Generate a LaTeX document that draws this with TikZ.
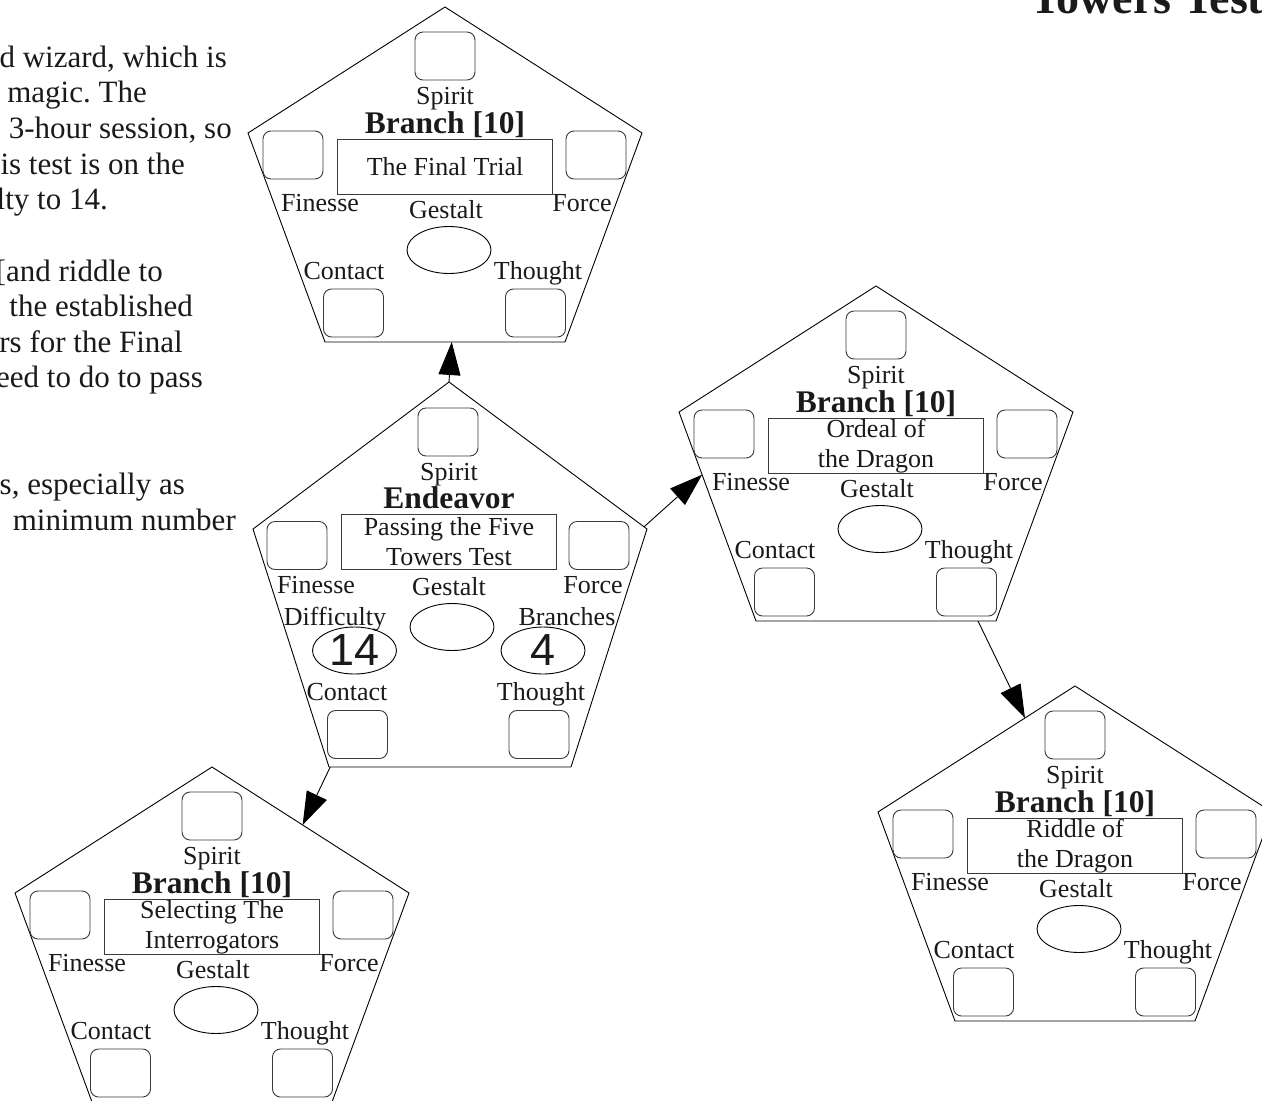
\documentclass[tikz,border=0pt]{standalone}
\usepackage{fontspec}
\setmainfont{Liberation Serif}
\newfontfamily\digitfont{Liberation Sans}
\usetikzlibrary{shapes.geometric,arrows.meta,calc}
\frenchspacing
\definecolor{ink}{HTML}{1A1A1A}
\definecolor{boxline}{HTML}{3A3A3A}
\tikzset{
  pentline/.style={draw=black,line width=0.9pt},
  slot/.style={draw=boxline,line width=0.9pt,rounded corners=8pt,minimum width=60pt,minimum height=48pt,inner sep=0pt},
  namebox/.style={draw=boxline,line width=0.9pt,minimum width=215pt,minimum height=55pt,inner sep=0pt,align=center,font=\fontsize{26}{30}\selectfont,text=ink},
  lbl/.style={anchor=base,inner sep=0pt,font=\fontsize{26}{30}\selectfont,text=ink},
  ttl/.style={anchor=base,inner sep=0pt,font=\bfseries\fontsize{31.5}{36}\selectfont,text=ink},
  oval/.style={draw=black,ellipse,line width=0.9pt,minimum width=84pt,minimum height=47pt,inner sep=0pt},
  bigoval/.style={oval,font=\digitfont\fontsize{45}{50}\selectfont,text=ink},
  prose/.style={anchor=base east,inner sep=0pt,font=\fontsize{31}{35.6}\selectfont,text=ink},
  arr/.style={draw=black,line width=0.9pt,-{Triangle[length=33pt,width=22pt]}},
}
% standard pentagon: #1 id, #2 apex x, #3 apex y, #4 title, #5 box text
\newcommand{\PentBox}[5]{%
  \begin{scope}[shift={(#2,#3)}]
    \coordinate (#1-t) at (0,0);
    \coordinate (#1-r) at (197,126);
    \coordinate (#1-br) at (120,335);
    \coordinate (#1-bl) at (-120,335);
    \coordinate (#1-l) at (-197,126);
    \draw[pentline] (#1-t) -- (#1-r) -- (#1-br) -- (#1-bl) -- (#1-l) -- cycle;
    \node[slot] (#1-spirit) at (0,49) {};
    \node[lbl] (#1-spiritl) at (0,97) {Spirit};
    \node[ttl] (#1-title) at (0,126) {#4};
    \node[namebox] (#1-name) at (0,160) {#5};
    \node[slot] (#1-finesse) at (-152,148) {};
    \node[slot] (#1-force) at (151,148) {};
    \node[lbl] (#1-finessel) at (-125,204) {Finesse};
    \node[lbl] (#1-forcel) at (137,204) {Force};
    \node[lbl] (#1-gestaltl) at (1,211) {Gestalt};
    \node[oval] (#1-gestalt) at (4,243) {};
    \node[lbl] (#1-contactl) at (-101,272) {Contact};
    \node[lbl] (#1-thoughtl) at (93,272) {Thought};
    \node[slot] (#1-contact) at (-91.5,306) {};
    \node[slot] (#1-thought) at (90.5,306) {};
  \end{scope}}
\begin{document}
\begin{tikzpicture}[x=1pt,y=-1pt]
  \useasboundingbox (0,0) rectangle (1262,1101);
  \clip (0,0) rectangle (1262,1101);
  \fill[white] (0,0) rectangle (1262,1101);

  % page text (cut off at the left edge)
  \node[prose] (p1) at (227,67) {d wizard, which is};
  \node[prose] (p2) at (147,102.6) {magic. The};
  \node[prose] (p3) at (232,138) {3-hour session, so};
  \node[prose] (p4) at (185,174) {is test is on the};
  \node[prose] (p5) at (108,209) {lty to 14.};
  \node[prose] (p6) at (163,281) {[and riddle to};
  \node[prose] (p7) at (193,316) {the established};
  \node[prose] (p8) at (183,352) {rs for the Final};
  \node[prose] (p9) at (203,387) {eed to do to pass};
  \node[prose] (p10) at (185,494) {s, especially as};
  \node[prose] (p11) at (236,530) {minimum number};

  \node[anchor=base west,inner sep=0pt,font=\bfseries\fontsize{46}{52}\selectfont,text=ink] (heading) at (1030,13.3) {Towers Test};

  \PentBox{fin}{445}{7}{Branch [10]}{The Final Trial}
  \PentBox{ord}{876}{286}{Branch [10]}{Ordeal of\\the Dragon}
  \PentBox{rid}{1075}{686}{Branch [10]}{Riddle of\\the Dragon}
  \PentBox{sel}{212}{767}{Branch [10]}{Selecting The\\Interrogators}

  % central Endeavor pentagon
  \begin{scope}[shift={(449,382)}]
    \coordinate (end-t) at (0,0);
    \coordinate (end-r) at (198,147);
    \coordinate (end-br) at (122,385);
    \coordinate (end-bl) at (-120,385);
    \coordinate (end-l) at (-196,147);
    \draw[pentline] (end-t) -- (end-r) -- (end-br) -- (end-bl) -- (end-l) -- cycle;
    \node[slot] (end-spirit) at (-1,50) {};
    \node[lbl] (end-spiritl) at (0,98) {Spirit};
    \node[ttl] (end-title) at (0,126) {Endeavor};
    \node[namebox] (end-name) at (0,160) {Passing the Five\\Towers Test};
    \node[slot] (end-finesse) at (-152,163.5) {};
    \node[slot] (end-force) at (150,163.5) {};
    \node[lbl] (end-finessel) at (-133,211) {Finesse};
    \node[lbl] (end-forcel) at (144,211) {Force};
    \node[lbl] (end-gestaltl) at (0,213) {Gestalt};
    \node[oval] (end-gestalt) at (3,245) {};
    \node[lbl] (end-diffl) at (-114,243) {Difficulty};
    \node[lbl] (end-branchl) at (118,243) {Branches};
    \node[bigoval] (end-diff) at (-94.5,268.5) {14};
    \node[bigoval] (end-branch) at (94,268.5) {4};
    \node[lbl] (end-contactl) at (-102,318) {Contact};
    \node[lbl] (end-thoughtl) at (92,318) {Thought};
    \node[slot] (end-contact) at (-91.5,352.5) {};
    \node[slot] (end-thought) at (90,352.5) {};
  \end{scope}

  % connectors
  \coordinate (a1tip) at ($(fin-bl)!0.528!(fin-br)$);
  \coordinate (a2tail) at ($(end-t)!0.985!(end-r)$);
  \coordinate (a2tip) at ($(ord-l)!0.30!(ord-bl)$);
  \coordinate (a3tail) at ($(ord-bl)!0.925!(ord-br)$);
  \coordinate (a3tip) at ($(rid-t)!0.254!(rid-l)$);
  \coordinate (a4tail) at ($(end-bl)!0.005!(end-br)$);
  \coordinate (a4tip) at ($(sel-t)!0.46!(sel-r)$);
  \draw[arr] (end-t) -- (a1tip);
  \draw[arr] (a2tail) -- (a2tip);
  \draw[arr] (a3tail) -- (a3tip);
  \draw[arr] (a4tail) -- (a4tip);
\end{tikzpicture}
\end{document}
